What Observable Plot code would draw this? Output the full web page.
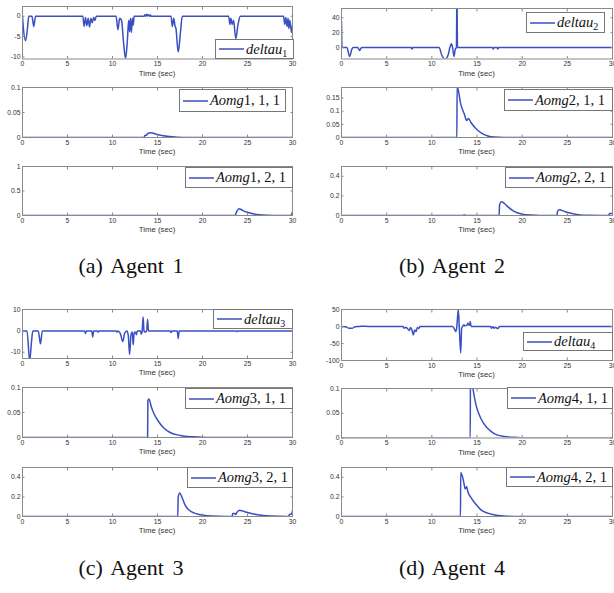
<!DOCTYPE html>
<html><head><meta charset="utf-8">
<script src="https://cdn.jsdelivr.net/npm/d3@7"></script>
<script src="https://cdn.jsdelivr.net/npm/@observablehq/plot@0.6"></script>
<style>
body{margin:0;background:#fff;}
#fig{position:relative;width:614px;height:593px;overflow:hidden;background:#fff;font-family:"Liberation Sans",Arial,sans-serif;}
.cell{position:absolute;overflow:hidden;}
.tl{position:absolute;font-size:7.8px;color:#333;transform:translate(-50%,-50%);white-space:nowrap;}
.lg{position:absolute;box-sizing:border-box;border:1px solid #777;background:#fff;display:flex;align-items:center;font-family:"Liberation Serif","Times New Roman",serif;font-size:14.5px;color:#111;white-space:nowrap;}
.lg svg{margin-left:3px;margin-right:2px;flex:none;}
.lg sub{font-size:10px;font-style:normal;vertical-align:-3px;line-height:0;}
.cap{position:absolute;font-family:"Liberation Serif","Times New Roman",serif;font-size:22px;transform:translate(-50%,-50%);white-space:nowrap;word-spacing:3px;color:#111;}
</style></head><body><div id="fig"></div><script>
// ---------------- data (time [s], value) ----------------
const xTicks = [0, 5, 10, 15, 20, 25, 30];

const deltau1 = [[0,0],[0.1,-3],[0.35,-6],[0.55,-3],[0.7,0],[1.05,0],[1.25,-2.5],[1.45,0],
 [6.7,0],[6.85,-2.5],[7.0,-0.3],[7.15,-2.3],[7.3,-0.5],[7.45,-2.6],[7.6,-0.5],[7.75,-1.6],[7.9,-0.3],[8.05,-1.0],[8.2,0],
 [10.4,0],[10.6,-3.3],[10.8,-0.5],[11.0,-1],[11.25,-7],[11.45,-10.4],[11.65,-6],[11.8,-1],[11.9,-3.8],[12.0,-0.5],[12.1,-4],[12.2,-0.5],[12.3,-2.2],[12.4,0],
 [13.5,0],[13.6,0.4],[13.7,0],[13.8,0.5],[13.9,0.1],[14.0,0.4],[14.1,0],[14.2,0.3],[14.3,0],
 [16.5,0],[16.65,-2.5],[16.8,-0.5],[16.95,-2.4],[17.05,-3],[17.3,-8.8],[17.55,-4],[17.75,0],
 [22.9,0],[23.05,-2],[23.15,-0.5],[23.3,-2],[23.45,-1],[23.7,-5.5],[23.95,-2],[24.2,0],
 [29.0,0],[29.15,-2],[29.25,-0.3],[29.4,-2.5],[29.5,-0.5],[29.6,-3],[29.7,-1],[29.9,-4],[30,-2.2]];
const aomg111 = [[0,0],[13.5,0],[13.6,0.004],[13.8,0.005],[13.9,0.008],[14.3,0.0095],[14.8,0.007],[15.5,0.004],[16.3,0.0018],[17.2,0.0006],[18.5,0],[30,0]];
const aomg121 = [[0,0],[23.6,0],[23.8,0.08],[24.05,0.14],[24.5,0.1],[25,0.065],[25.6,0.035],[26.3,0.015],[27.2,0.004],[28.5,0],[29.8,0],[30,0.07]];

const deltau2 = [[0,35],[0.05,0],[0.6,0],[0.9,-12],[1.15,-2],[1.3,0],[1.8,0],[2.0,-4],[2.15,-1],[2.3,0],
 [7.7,0],[7.8,-2],[7.9,0],
 [10.8,0],[11.1,-10],[11.45,-16],[11.8,-10],[12.0,0],[12.15,5],[12.3,0],[12.45,-12],[12.6,-2],[12.72,0],[12.78,80],[12.84,0],
 [16.7,0],[16.8,-2],[16.9,0],[17.2,0],[17.3,-2],[17.4,0],[30,0]];
const aomg211 = [[0,0],[12.77,0],[12.8,0.195],[13.2,0.127],[13.6,0.088],[13.85,0.065],[14.05,0.072],[14.35,0.056],[14.9,0.033],[15.45,0.018],[16.2,0.006],[16.9,0.0015],[18,0],[30,0]];
const aomg221 = [[0,0],[13.4,0],[13.6,0.004],[13.8,0],[17.45,0],[17.5,0.11],[17.7,0.14],[18.0,0.125],[18.4,0.09],[19.1,0.042],[19.9,0.016],[21.0,0.004],[22,0.001],[23.85,0],[23.9,0.04],[24.15,0.058],[24.6,0.045],[25.1,0.03],[26.2,0.009],[27.3,0.002],[29.6,0],[29.65,0.02],[30,0.02]];

const deltau3 = [[0,0],[0.5,0],[0.8,-14],[1.0,-5],[1.15,0],[1.75,0],[2.0,-6],[2.2,0],
 [6.9,0],[7.0,-1.2],[7.1,0],[7.7,0],[7.8,-2.8],[7.9,0],[8.3,0],[8.4,-0.6],[8.5,0],
 [10.4,0],[10.5,-0.6],[10.6,0],[10.85,-1],[11.15,-5],[11.35,-1],[11.6,0],[11.75,-2],[11.9,-11],[12.05,-2],[12.2,-0.5],[12.3,-6.5],[12.4,-1],[12.55,-0.5],[12.65,-1.8],[12.75,0],
 [13.1,0],[13.2,-1.5],[13.3,0],[13.4,6.5],[13.5,0],[13.6,-0.5],[13.8,0],[13.9,5.5],[14.0,0],
 [16.4,0],[16.5,-0.8],[16.6,0],[17.2,0],[17.3,-3.6],[17.4,0],
 [23.7,0],[23.8,-0.3],[23.9,0],[30,0]];
const aomg311 = [[0,0],[13.9,0],[13.93,0.074],[14.05,0.077],[14.3,0.062],[14.6,0.048],[15.15,0.031],[15.7,0.019],[16.4,0.01],[17.55,0.004],[19,0.0013],[20.5,0],[30,0]];
const aomg321 = [[0,0],[17.25,0],[17.3,0.2],[17.48,0.24],[17.7,0.2],[18.1,0.11],[18.85,0.044],[19.8,0.017],[20.9,0.005],[22.7,0],[23.3,0],[23.35,0.03],[23.6,0.03],[23.7,0.02],[23.8,0.04],[24.15,0.065],[24.5,0.055],[25,0.04],[26.1,0.018],[27.6,0.005],[29.4,0],[29.6,0],[29.65,0.02],[29.9,0.025],[30,0.06]];

const deltau4 = [[0,0],[0.5,-1],[0.8,-5],[1.2,-5],[1.5,-1],[2,0],[2.5,1],[3,0],
 [6.8,0],[6.95,-5],[7.1,-2],[7.3,-6],[7.5,-12],[7.65,-3],[7.8,-10],[7.95,-25],[8.1,-10],[8.25,-15],[8.4,-3],[8.55,-6],[8.7,0],
 [12.3,0],[12.55,-10],[12.65,-15],[12.75,-5],[12.93,50],[13.05,-10],[13.2,-78],[13.3,-5],[13.4,0],[13.55,5],[13.65,2],[13.9,4],[14.0,10],[14.1,4],[14.2,5],[14.25,15],[14.35,0],
 [16.5,0],[16.6,-5],[16.75,-1],[16.9,-5],[17.05,-2],[17.3,-6],[17.5,0],[30,0]];
const aomg411 = [[0,0],[14.25,0],[14.28,0.14],[14.55,0.1],[14.9,0.066],[15.44,0.039],[16.2,0.019],[16.9,0.009],[18,0.003],[19.5,0.001],[20.5,0],[30,0]];
const aomg421 = [[0,0],[13.17,0],[13.2,0.45],[13.5,0.366],[13.7,0.28],[13.85,0.305],[14.0,0.25],[14.3,0.197],[14.9,0.122],[15.44,0.068],[16.2,0.034],[17.3,0.01],[18.4,0.003],[19.9,0],[30,0]];

const series = [[deltau1, aomg111, aomg121],[deltau2, aomg211, aomg221],[deltau3, aomg311, aomg321],[deltau4, aomg411, aomg421]];
const yDomains = [[[-10.5,2.4],[0,0.1],[0,1]],[[-15.3,52.3],[0,0.19],[0,0.5]],[[-12.9,10],[0,0.1],[0,0.5]],[[-100,50],[0,0.1],[0,0.5]]];
const yTicks = [[[-10,-5,0],[0,0.05,0.1],[0,0.5,1]],[[0,20,40],[0,0.05,0.1,0.15],[0,0.2,0.4]],[[-10,0,10],[0,0.05,0.1],[0,0.2,0.4]],[[-100,-50,0,50],[0,0.05,0.1],[0,0.2,0.4]]];
const captions = ["(a) Agent 1", "(b) Agent 2", "(c) Agent 3", "(d) Agent 4"];
const xLabel = "Time (sec)";

// ---------------- layout ----------------
const cols = [{x0:0, w:299, fl:22, fr:292}, {x0:300, w:314, fl:341, fr:612}];
const layout = [
  {col:0, frames:[[6,58.5],[87,137],[166,215]], legends:[[215,39,79,20],[179,89,107,23],[185,167,108,21]], caption:[131,266]},
  {col:1, frames:[[8,58.5],[87,137],[166,215]], legends:[[526,12,79,21],[504,89,109,22],[505,167,108,21]], caption:[452,266]},
  {col:0, frames:[[309,358],[387,437],[467,516]], legends:[[213,309,80,20],[185,388,108,21],[187,467,106,21]], caption:[131,568]},
  {col:1, frames:[[309,360],[388,437.5],[467,516]], legends:[[523,332,90,19],[507,387,106,22],[506,467,107,20]], caption:[452,568]}
];
const blue = "#3a4fc0", frameColor = "#8a8a8a", textColor = "#333";

const fig = document.getElementById("fig");
const fmt = d => String(d);

function drawSub(col, frame, yDom, yTk, data) {
  const [T, B] = frame;
  const mt = 6, mb = 14, h = B - T + mt + mb;
  const div = document.createElement("div");
  div.className = "cell";
  div.style.left = col.x0 + "px";
  div.style.top = (T - mt) + "px";
  div.style.width = col.w + "px";
  div.style.height = h + "px";
  const p = Plot.plot({
    width: col.w, height: h,
    marginLeft: col.fl - col.x0, marginRight: col.x0 + col.w - col.fr,
    marginTop: mt, marginBottom: mb,
    style: {background: "transparent", fontFamily: "Liberation Sans, Arial, sans-serif", fontSize: "6.8px", color: textColor, overflow: "visible"},
    x: {domain: [0, 30]},
    y: {domain: yDom},
    marks: [
      Plot.line(data, {x: d => d[0], y: d => d[1], stroke: blue, strokeWidth: 1.5, curve: "monotone-x", clip: true}),
      Plot.frame({stroke: frameColor}),
      Plot.axisX(xTicks, {anchor: "bottom", tickSize: -2.5, tickPadding: 5, tickFormat: fmt, label: null, stroke: frameColor, fill: textColor}),
      Plot.axisX(xTicks, {anchor: "top", tickSize: -2.5, tickFormat: () => "", label: null, stroke: frameColor}),
      Plot.axisY(yTk, {anchor: "left", tickSize: -2.5, tickPadding: 4.5, tickFormat: fmt, label: null, stroke: frameColor, fill: textColor}),
      Plot.axisY(yTk, {anchor: "right", tickSize: -2.5, tickFormat: () => "", label: null, stroke: frameColor})
    ]
  });
  div.appendChild(p);
  fig.appendChild(div);
  const tl = document.createElement("div");
  tl.className = "tl";
  tl.textContent = xLabel;
  tl.style.left = ((col.fl + col.fr) / 2) + "px";
  tl.style.top = (B + 14) + "px";
  fig.appendChild(tl);
}

function drawLegend(box, html) {
  const [l, t, w, h] = box;
  const d = document.createElement("div");
  d.className = "lg";
  d.style.left = l + "px"; d.style.top = t + "px"; d.style.width = w + "px"; d.style.height = h + "px";
  d.innerHTML = `<svg width="25" height="4"><line x1="0" y1="2" x2="25" y2="2" stroke="${blue}" stroke-width="1.5"/></svg><span>${html}</span>`;
  fig.appendChild(d);
}

layout.forEach((L, a) => {
  const col = cols[L.col];
  for (let k = 0; k < 3; k++) {
    drawSub(col, L.frames[k], yDomains[a][k], yTicks[a][k], series[a][k]);
  }
  const n = a + 1;
  drawLegend(L.legends[0], `<i>deltau</i><sub>${n}</sub>`);
  drawLegend(L.legends[1], `<i>Aomg</i>${n}, 1, 1`);
  drawLegend(L.legends[2], `<i>Aomg</i>${n}, 2, 1`);
  const c = document.createElement("div");
  c.className = "cap";
  c.textContent = captions[a];
  c.style.left = L.caption[0] + "px";
  c.style.top = L.caption[1] + "px";
  fig.appendChild(c);
});
</script></body></html>
